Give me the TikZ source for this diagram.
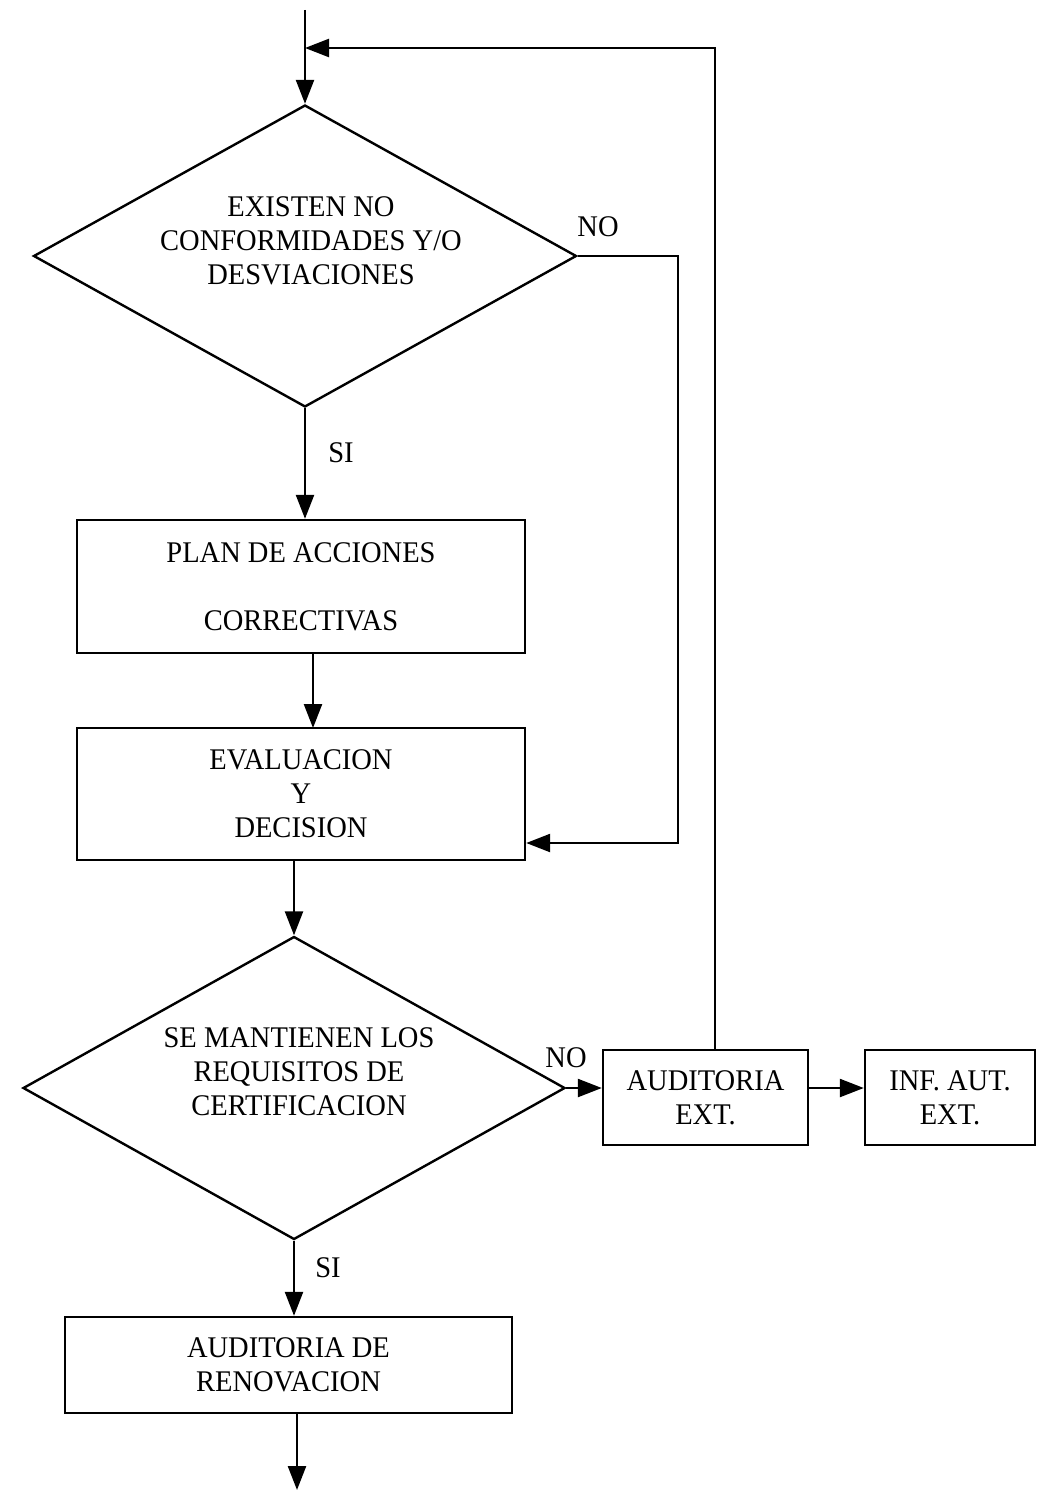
\documentclass[tikz,border=0pt]{standalone}
\usepackage{fontspec}
\setmainfont{Liberation Serif}[FakeStretch=0.95]
\usetikzlibrary{shapes.geometric,arrows.meta}
\begin{document}
\begin{tikzpicture}[x=0.5pt,y=-0.5pt,
  every node/.style={font=\fontsize{15pt}{17pt}\selectfont, align=center},
  flow/.style={line width=1.2pt},
  arr/.style={flow,-{Triangle[length=12pt,width=9pt]}},
  procbox/.style={draw,line width=1.2pt,inner sep=0pt},
  decision/.style={draw,diamond,line width=1.2pt,inner sep=0pt},
  lbl/.style={inner sep=0pt}]

\useasboundingbox (0,0) rectangle (1040,1493);

% decisions
\node[decision,minimum width=271.5pt,minimum height=151pt] (d1) at (305,256) {};
\node[lbl] (d1t) at (311,241) {EXISTEN NO\\CONFORMIDADES Y/O\\DESVIACIONES};
\node[decision,minimum width=271pt,minimum height=151.5pt] (d2) at (294,1088) {};
\node[lbl] (d2t) at (299,1072) {SE MANTIENEN LOS\\REQUISITOS DE\\CERTIFICACION};

% processes
\node[procbox,minimum width=224pt,minimum height=66.5pt] (plan) at (301,586.5)
  {PLAN DE ACCIONES\\[17pt]CORRECTIVAS};
\node[procbox,minimum width=224pt,minimum height=66pt] (ev) at (301,794)
  {EVALUACION\\Y\\DECISION};
\node[procbox,minimum width=102.5pt,minimum height=47.5pt] (aud) at (705.5,1097.5)
  {AUDITORIA\\EXT.};
\node[procbox,minimum width=85pt,minimum height=47.5pt] (inf) at (950,1097.5)
  {INF. AUT.\\EXT.};
\node[procbox,minimum width=223.5pt,minimum height=48pt] (ren) at (288.5,1365)
  {AUDITORIA DE\\RENOVACION};

% branch labels
\node[lbl] (no1) at (598,227) {NO};
\node[lbl] (si1) at (341,453) {SI};
\node[lbl] (no2) at (566,1058) {NO};
\node[lbl] (si2) at (328,1268) {SI};

% free ends
\coordinate (start) at (305,10);
\coordinate (join) at (305,48);
\coordinate (finish) at (297,1490);

% connectors
\draw[arr] (start) -- (d1.north);
\draw[arr] (aud.north -| 715,0) -- (715,48) -- (join);
\draw[arr] (d1.east) -- (678,256) -- (678,843) -- (ev.east |- 0,843);
\draw[arr] (d1.south) -- (d1.south |- plan.north);
\draw[arr] (313,653) -- (313,728);
\draw[arr] (d2.north |- ev.south) -- (d2.north);
\draw[arr] (d2.east) -- (d2.east -| aud.west);
\draw[arr] (aud.east |- d2.east) -- (inf.west |- d2.east);
\draw[arr] (d2.south) -- (d2.south |- ren.north);
\draw[arr] (ren.south -| finish) -- (finish);
\end{tikzpicture}
\end{document}
